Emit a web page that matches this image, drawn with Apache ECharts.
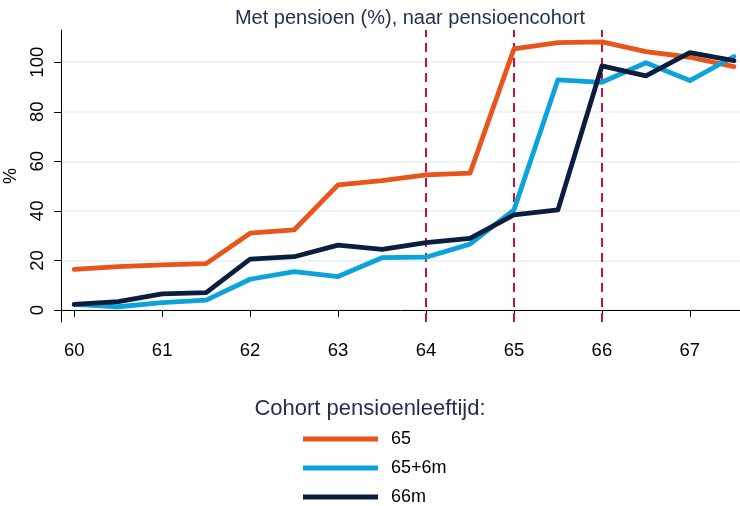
<!DOCTYPE html>
<html>
<head>
<meta charset="utf-8">
<script src="https://cdn.jsdelivr.net/npm/echarts@6/dist/echarts.min.js"></script>
<style>
  html, body { margin: 0; padding: 0; background: #fff; }
  #main { width: 740px; height: 506px; }
</style>
</head>
<body>
<div id="main"></div>
<script>
var myChart = echarts.init(document.getElementById('main'));

// leeftijd (jaren) en % met pensioen per cohort
var ages = [60, 60.5, 61, 61.5, 62, 62.5, 63, 63.5, 64, 64.5, 65, 65.5, 66, 66.5, 67, 67.5];
var cohort65 = [16.4, 17.5, 18.2, 18.7, 31, 32.3, 50.5, 52.2, 54.5, 55.2, 105.4, 107.9, 108.2, 104.3, 102, 98.2];
var cohort65_6m = [2.3, 1.3, 3, 4, 12.4, 15.5, 13.5, 21.1, 21.3, 26.6, 40.4, 92.9, 91.9, 99.8, 92.6, 102.3];
var cohort66 = [2.3, 3.4, 6.5, 7, 20.5, 21.5, 26.2, 24.5, 27.2, 28.9, 38.4, 40.4, 98.5, 94.5, 103.9, 100.6];
var seriesNames = ['65', '65+6m', '66m'];
var pensionAges = [64, 65, 66];
var xTicks = [60, 61, 62, 63, 64, 65, 66, 67];
var yTicks = [0, 20, 40, 60, 80, 100];

var colors = ['#E8541A', '#0BA3DC', '#0B1E3F'];
var font = 'Liberation Sans, Arial, sans-serif';

function pairs(vals) {
    return ages.map(function (a, i) { return [a, vals[i]]; });
}

var lineSeries = [cohort65, cohort65_6m, cohort66].map(function (vals, i) {
    var s = {
        name: seriesNames[i],
        type: 'line',
        data: pairs(vals),
        symbol: 'none',
        lineStyle: { width: 4.8, color: colors[i], join: 'round', cap: 'round' },
        itemStyle: { color: colors[i] },
        z: 3 + i
    };
    if (i === 0) {
        s.markLine = {
            silent: true,
            symbol: 'none',
            label: { show: false },
            lineStyle: { color: '#C8123E', type: [9, 6], width: 2 },
            z: 1,
            data: pensionAges.map(function (a) { return { xAxis: a }; })
        };
    }
    return s;
});

var option = {
    animation: false,
    backgroundColor: '#fff',
    textStyle: { fontFamily: font },
    title: {
        text: 'Met pensioen (%), naar pensioencohort',
        left: 405,
        textAlign: 'center',
        top: 3,
        textStyle: { fontFamily: font, fontSize: 20, fontWeight: 'normal', color: '#1F2D50' }
    },
    grid: { left: 61, right: 0, top: 30, bottom: 184, outerBoundsMode: 'none', containLabel: false },
    xAxis: {
        type: 'value',
        min: 59.85,
        max: 67.57,
        axisLine: { show: true, lineStyle: { color: '#000', width: 1 } },
        axisTick: { show: true, length: 7, lineStyle: { color: '#000' }, customValues: xTicks },
        axisLabel: { customValues: xTicks, color: '#000', fontSize: 18.5, fontFamily: font, margin: 19 },
        splitLine: { show: false }
    },
    yAxis: {
        type: 'value',
        name: '%',
        nameLocation: 'middle',
        nameRotate: 90,
        nameGap: 37,
        nameTextStyle: { color: '#000', fontSize: 18, fontFamily: font },
        min: -4.85,
        max: 113,
        axisLine: { show: true, lineStyle: { color: '#000', width: 1 } },
        axisTick: { show: true, length: 7, lineStyle: { color: '#000' }, customValues: yTicks },
        axisLabel: { customValues: yTicks, rotate: 90, color: '#000', fontSize: 18.5, fontFamily: font, margin: 14 },
        splitLine: { show: true, lineStyle: { color: '#E6EEF2', width: 1.5 } }
    },
    legend: {
        orient: 'vertical',
        left: 303,
        top: 430,
        height: 80,
        padding: 0,
        data: seriesNames,
        icon: 'rect',
        itemWidth: 75,
        itemHeight: 5,
        itemGap: 11,
        textStyle: { color: '#000', fontSize: 18, lineHeight: 18, fontFamily: font, padding: [0, 0, 0, 8] }
    },
    graphic: [{
        type: 'text',
        left: 'center',
        top: 398,
        style: {
            text: 'Cohort pensioenleeftijd:',
            x: 0,
            fill: '#1F2D50',
            font: '22px ' + font
        }
    }],
    series: lineSeries
};

myChart.setOption(option);
</script>
</body>
</html>
